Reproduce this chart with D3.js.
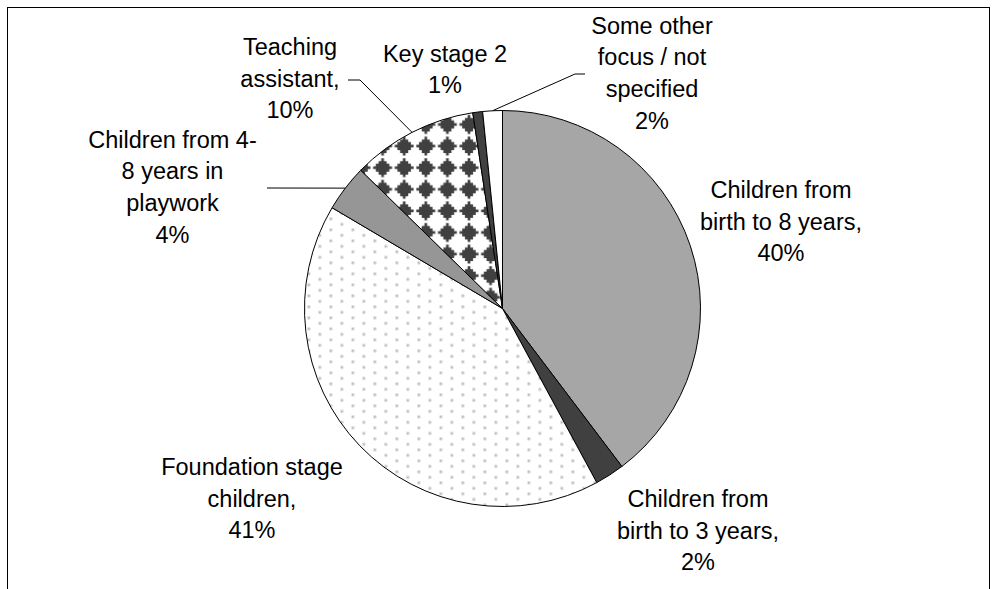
<!DOCTYPE html>
<html><head><meta charset="utf-8">
<script src="https://cdn.jsdelivr.net/npm/d3@7"></script>
<style>html,body{margin:0;padding:0;background:#fff;}svg{display:block;}</style>
</head><body>
<svg id="chart" width="993" height="589"></svg>
<script>
// ---- data ----
const categories = [
  "Children from birth to 8 years",
  "Children from birth to 3 years",
  "Foundation stage children",
  "Children from 4-8 years in playwork",
  "Teaching assistant",
  "Key stage 2",
  "Some other focus / not specified"
];
const values = [39.7, 2.4, 41.4, 3.8, 10.3, 0.8, 1.6];
const labelLines = [
  ["Children from", "birth to 8 years,"],
  ["Children from", "birth to 3 years,"],
  ["Foundation stage", "children,"],
  ["Children from 4-", "8 years in", "playwork"],
  ["Teaching", "assistant,"],
  ["Key stage 2"],
  ["Some other", "focus / not", "specified"]
];

// ---- layout / style ----
const W = 993, H = 589;
const cx = 502.5, cy = 308.5, R = 198;
const fontSize = 23.5, lineH = 31.7;
const labelPos = [[781,198],[698,507],[252,475],[172.5,147.5],[290,55],[445,61.5],[652,33.5]];
const fills = ["#a6a6a6","#404040","url(#dots)","#969696","url(#diamonds)","#404040","#ffffff"];

const svg = d3.select("#chart");
svg.append("rect").attr("x",0).attr("y",0).attr("width",W).attr("height",H).attr("fill","#fff");
svg.append("rect").attr("x",7.5).attr("y",7.5).attr("width",982).attr("height",700)
  .attr("fill","none").attr("stroke","#000").attr("stroke-width",1);

const defs = svg.append("defs");
const pd = defs.append("pattern").attr("id","dots").attr("patternUnits","userSpaceOnUse")
  .attr("width",22).attr("height",11).attr("x",355).attr("y",382);
pd.append("rect").attr("width",22).attr("height",11).attr("fill","#fff");
pd.append("rect").attr("x",0).attr("y",0).attr("width",2.7).attr("height",2.7).attr("fill","#c0c0c0");
pd.append("rect").attr("x",11).attr("y",5.5).attr("width",2.7).attr("height",2.7).attr("fill","#c0c0c0");

const dm = 21.6;
const pm = defs.append("pattern").attr("id","diamonds").attr("patternUnits","userSpaceOnUse")
  .attr("width",dm).attr("height",dm).attr("x",441.7-dm/2).attr("y",161.7-dm/2);
pm.append("rect").attr("width",dm).attr("height",dm).attr("fill","#fff");
// stepped diamond
const c = dm/2, s = 2.7;
const steps = [[-1.5,3.5],[-0.5,4.5] ];
let dpath = "";
for (let k = -3; k <= 3; k++) {
  const half = (3.5 - Math.abs(k)) * s;  // half-width of row
  dpath += `M${c-half},${c + k*s - s/2} h${2*half} v${s} h${-2*half} Z `;
}
pm.append("path").attr("d",dpath).attr("fill","#404040");

const pie = d3.pie().sort(null).value(d => d);
const arcs = pie(values);
const arc = d3.arc().innerRadius(0).outerRadius(R);

const g = svg.append("g").attr("transform",`translate(${cx},${cy})`);
g.selectAll("path.slice").data(arcs).enter().append("path")
  .attr("class","slice")
  .attr("d",arc)
  .attr("fill",(d,i)=>fills[i])
  .attr("stroke","#000").attr("stroke-width",1).attr("stroke-linejoin","round");

// leader lines
const total = d3.sum(values);
function edgePoint(i){
  const a = (arcs[i].startAngle + arcs[i].endAngle)/2;
  return [cx + R*Math.sin(a), cy - R*Math.cos(a)];
}
const leaders = [
  {i:3, pts:[[267,188]]},
  {i:4, pts:[[348,80],[360,80]]},
  {i:6, pts:[[585,74],[575,74]]}
];
leaders.forEach(l => {
  const p = l.pts.concat([edgePoint(l.i)]);
  svg.append("path").attr("d", d3.line()(p)).attr("fill","none")
    .attr("stroke","#000").attr("stroke-width",1);
});

// labels
arcs.forEach((d,i) => {
  const pct = Math.round(values[i]/total*100) + "%";
  const lines = labelLines[i].concat([pct]);
  const t = svg.append("text").attr("text-anchor","middle")
    .attr("font-family","'Liberation Sans', Arial, sans-serif")
    .attr("font-size",fontSize).attr("fill","#000");
  lines.forEach((s,k) => {
    t.append("tspan").attr("x",labelPos[i][0]).attr("y",labelPos[i][1] + k*lineH).text(s);
  });
});
</script>
</body></html>
